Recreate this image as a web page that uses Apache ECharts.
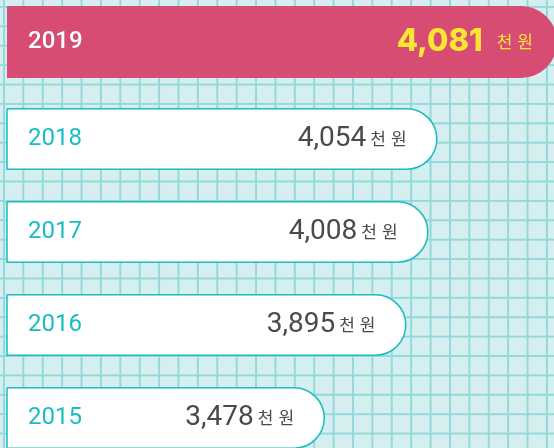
<!DOCTYPE html>
<html>
<head>
<meta charset="utf-8">
<script src="https://cdn.jsdelivr.net/npm/echarts@6/dist/echarts.min.js"></script>
<style>
html, body { margin: 0; padding: 0; }
#chart {
  width: 554px;
  height: 448px;
  background-color: #d5eef0;
  background-image:
    linear-gradient(to right, #93d9dc 2px, transparent 2px),
    linear-gradient(to bottom, #93d9dc 2px, transparent 2px);
  background-size: 19.4px 19.4px;
  background-position: 3px 6px;
}
</style>
</head>
<body>
<div id="chart"></div>
<script>
// current year is drawn on its own full-width panel
const highlightYears = ['2019']
const highlightValues = [4081]
// previous years
const years = ['2018', '2017', '2016', '2015']
const values = [4054, 4008, 3895, 3478]
const unitParts = ['천', '원']

const teal = '#1bbcc1'

function fmt(v) {
  return v.toLocaleString('en-US')
}

function valueLabel(p) {
  return '{v|' + fmt(p.value) + '}{u|' + unitParts[0] + '}{w|' + unitParts[1] + '}'
}

const chart = echarts.init(document.getElementById('chart'))

chart.setOption({
  animation: false,
  grid: [
    { left: 7, right: -3, top: 6, height: 72, outerBoundsMode: 'none' },
    { left: 7, right: 0, top: 92.5, height: 372, outerBoundsMode: 'none' }
  ],
  xAxis: [
    { gridIndex: 0, type: 'value', min: 0, max: 'dataMax', show: false },
    { gridIndex: 1, type: 'value', min: 1850, max: 4650, show: false }
  ],
  yAxis: [{
    gridIndex: 0,
    type: 'category',
    data: highlightYears,
    z: 10,
    axisLine: { show: false },
    axisTick: { show: false },
    axisLabel: {
      inside: true,
      margin: 21,
      color: '#fff',
      fontFamily: 'Roboto',
      fontWeight: 500,
      fontSize: 24
    }
  }, {
    gridIndex: 1,
    type: 'category',
    data: years,
    inverse: true,
    z: 10,
    axisLine: { show: false },
    axisTick: { show: false },
    axisLabel: {
      inside: true,
      margin: 21,
      color: teal,
      fontFamily: 'Roboto',
      fontSize: 24
    }
  }],
  series: [{
    type: 'bar',
    xAxisIndex: 0,
    yAxisIndex: 0,
    data: highlightValues,
    barWidth: 72,
    itemStyle: {
      color: '#d64c72',
      borderRadius: [0, 36, 36, 0]
    },
    label: {
      show: true,
      position: 'insideRight',
      distance: 24,
      formatter: valueLabel,
      rich: {
        v: { fontFamily: 'Inter', fontWeight: 800, fontSize: 31, color: '#fbe634' },
        u: { fontFamily: 'Noto Sans CJK KR', fontSize: 17, color: '#fbe634', padding: [0, 0, 0, 14] },
        w: { fontFamily: 'Noto Sans CJK KR', fontSize: 17, color: '#fbe634', padding: [0, 0, 0, 5] }
      }
    }
  }, {
    type: 'bar',
    xAxisIndex: 1,
    yAxisIndex: 1,
    data: values,
    barWidth: 62,
    itemStyle: {
      color: '#fff',
      borderColor: teal,
      borderWidth: 1.5,
      borderRadius: [0, 31, 31, 0]
    },
    label: {
      show: true,
      position: 'insideRight',
      distance: 31,
      formatter: valueLabel,
      rich: {
        v: { fontFamily: 'Roboto', fontSize: 28, color: '#4a4a4a' },
        u: { fontFamily: 'Noto Sans CJK KR', fontSize: 17, color: '#4a4a4a', padding: [0, 0, 0, 4] },
        w: { fontFamily: 'Noto Sans CJK KR', fontSize: 17, color: '#4a4a4a', padding: [0, 0, 0, 5] }
      }
    }
  }]
})
</script>
</body>
</html>
